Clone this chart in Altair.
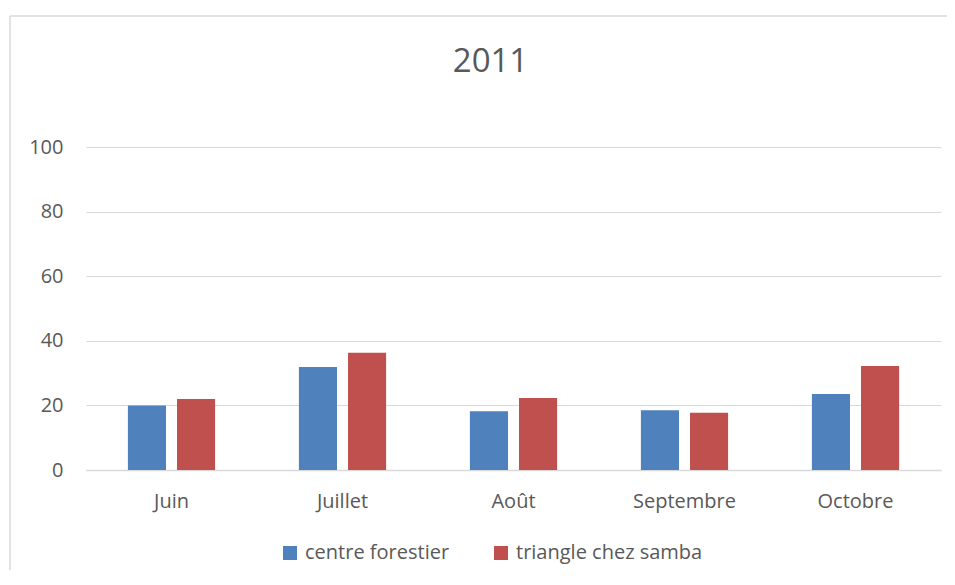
import altair as alt
import pandas as pd

months = ["Juin", "Juillet", "Août", "Septembre", "Octobre"]
series = ["centre forestier", "triangle chez samba"]
centre_forestier = [20.0, 31.9, 18.2, 18.5, 23.5]
triangle_chez_samba = [22.0, 36.3, 22.3, 17.7, 32.2]
y_ticks = [0, 20, 40, 60, 80, 100]
colors = ["#4F81BD", "#C0504D"]
title_text = "2011"

rows = []
for m, a, b in zip(months, centre_forestier, triangle_chez_samba):
    rows.append({"mois": m, "serie": series[0], "valeur": a})
    rows.append({"mois": m, "serie": series[1], "valeur": b})
df = pd.DataFrame(rows)

W, H = 855, 323
FONT = "Open Sans"

bars = alt.Chart(df).mark_bar().encode(
    x=alt.X("mois:N", sort=months, title=None,
            scale=alt.Scale(paddingInner=0.49, paddingOuter=0.245),
            axis=alt.Axis(labelAngle=0, ticks=False, domainColor="#D9D9D9",
                          domainWidth=1.5, labelPadding=21, labelFontSize=20,
                          labelColor="#595959", labelFont=FONT, grid=False)),
    xOffset=alt.XOffset("serie:N", sort=series,
                        scale=alt.Scale(paddingInner=0.2245, paddingOuter=0)),
    y=alt.Y("valeur:Q", title=None,
            scale=alt.Scale(domain=[0, 100], nice=False),
            axis=alt.Axis(values=y_ticks, domain=False, ticks=False,
                          labelPadding=23, labelFontSize=20, labelColor="#595959",
                          labelFont=FONT, gridColor="#D9D9D9", gridWidth=1)),
    color=alt.Color("serie:N", sort=series,
                    scale=alt.Scale(domain=series, range=colors),
                    legend=alt.Legend(title=None, orient="none", direction="horizontal",
                                      legendX=194, legendY=396,
                                      symbolType="square", symbolSize=196,
                                      symbolStrokeWidth=0, labelFontSize=20,
                                      labelFont=FONT, labelColor="#595959",
                                      labelOffset=5, columnPadding=41,
                                      labelLimit=400)),
)

frame_df = pd.DataFrame({"k": [0]})
top_line = alt.Chart(frame_df).mark_rule(color="#D9D9D9", strokeWidth=1.5).encode(
    x=alt.value(-76), x2=alt.value(W + 30), y=alt.value(-131))
left_line = alt.Chart(frame_df).mark_rule(color="#D9D9D9", strokeWidth=1.5).encode(
    x=alt.value(-76), y=alt.value(-131), y2=alt.value(H + 130))

title_df = pd.DataFrame({"t": [title_text]})
title_mark = alt.Chart(title_df).mark_text(
    fontSize=33, font=FONT, color="#595959", align="center", baseline="alphabetic"
).encode(text="t:N", x=alt.value(W / 2 - 23), y=alt.value(-75))

chart = alt.layer(top_line, left_line, title_mark, bars).properties(
    width=W, height=H,
    autosize="none",
    padding={"left": 78, "top": 139, "right": 6, "bottom": 100},
).configure_view(stroke=None)

chart.save("out.html", embed_options={"renderer": "svg", "actions": False})
